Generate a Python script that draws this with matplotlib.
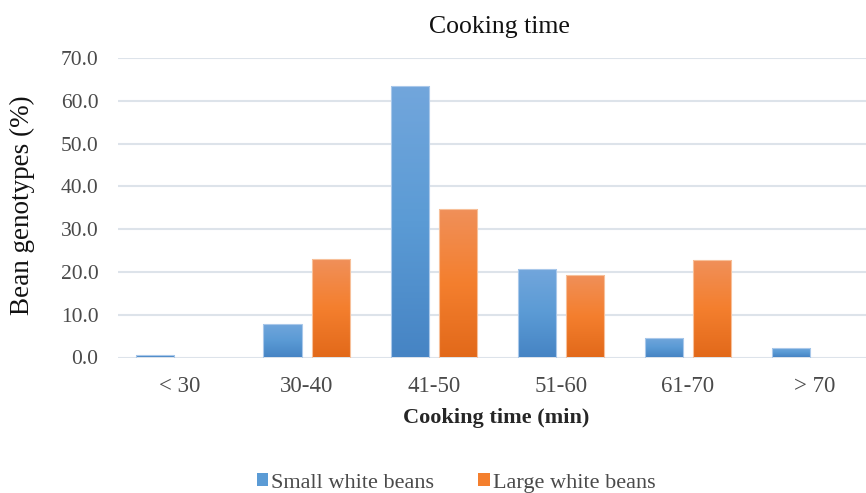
import matplotlib
matplotlib.use("Agg")
import matplotlib.pyplot as plt
import numpy as np
from matplotlib.colors import LinearSegmentedColormap
from matplotlib.patches import Patch

categories = ["< 30", "30-40", "41-50", "51-60", "61-70", "> 70"]
small_white = [0.7, 7.8, 63.5, 20.7, 4.6, 2.3]
large_white = [0.0, 23.0, 34.7, 19.2, 22.9, 0.0]
yticks = [0, 10, 20, 30, 40, 50, 60, 70]

plt.rcParams['font.family'] = ['Liberation Serif', 'DejaVu Serif']

fig = plt.figure(figsize=(8.66, 4.93), dpi=100)
ax = fig.add_axes([118/866, 135.5/493, 1 - 118/866, (435 - 135.5)/493])

x = np.arange(len(categories))
w = 0.30
off = 0.19

blue_cmap = LinearSegmentedColormap.from_list("b", ["#4684c4", "#5b9bd5", "#72a6dc"])
orange_cmap = LinearSegmentedColormap.from_list("o", ["#e2691a", "#f47f2e", "#f0905a"])

def grad_bars(xpos, vals, cmap, edge):
    bars = ax.bar(xpos, vals, width=w, color="none", edgecolor=edge, linewidth=0.8, zorder=3)
    for b in bars:
        h = b.get_height()
        if h <= 0:
            b.set_visible(False)
            continue
        x0 = b.get_x()
        grad = np.linspace(0, 1, 256).reshape(-1, 1)
        im = ax.imshow(grad, cmap=cmap, aspect="auto", origin="lower",
                       extent=[x0, x0 + b.get_width(), 0, h], zorder=2.5)
        im.set_clip_path(b)
    return bars

grad_bars(x - off, small_white, blue_cmap, "#a9c8ea")
grad_bars(x + off, large_white, orange_cmap, "#f7c09a")

ax.set_xlim(-0.484, 5.40)
ax.set_ylim(0, 70)
ax.set_yticks(yticks)
ax.set_yticklabels([f"{v:.1f}" for v in yticks], fontsize=15.5, color="#4a4a4a")
ax.set_xticks(x)
ax.set_xticklabels(categories, fontsize=16.5, color="#4a4a4a")
ax.tick_params(axis="both", length=0)
ax.tick_params(axis="y", pad=14)
ax.tick_params(axis="x", pad=13)
ax.grid(axis="y", color="#dde3ea", linewidth=1.5, zorder=0)
ax.set_axisbelow(True)
for s in ax.spines.values():
    s.set_visible(False)

fig.text(499/866, 1 - 27/493, "Cooking time", ha="center", va="center", fontsize=18.5, color="#111111")
fig.text(496/866, 1 - 418/493, "Cooking time (min)", ha="center", va="center", fontsize=16,
         fontweight="bold", color="#262626")
fig.text(22/866, 1 - 205/493, "Bean genotypes (%)", ha="center", va="center", rotation=90,
         fontsize=19.5, color="#111111")

handles = [Patch(facecolor="#5b9bd5", edgecolor="none"), Patch(facecolor="#f47f2e", edgecolor="none")]
fig.legend(handles, ["Small white beans", "Large white beans"], loc="center",
           bbox_to_anchor=(456/866, 1 - 483/493), ncol=2, frameon=False, fontsize=16,
           labelcolor="#4a4a4a", handlelength=0.5, handleheight=0.5, handletextpad=0.15,
           columnspacing=2.0)

fig.savefig("out.png", dpi=100)
